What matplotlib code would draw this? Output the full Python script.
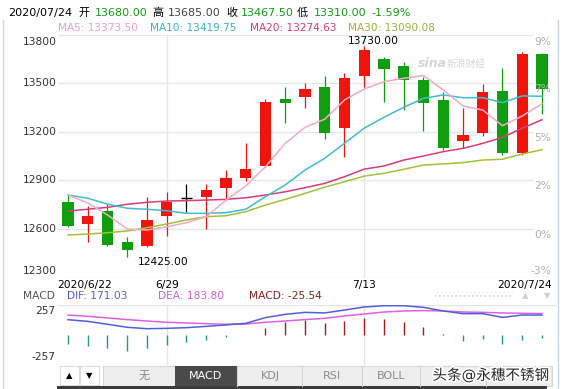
import matplotlib
matplotlib.use('Agg')
import matplotlib.pyplot as plt
from matplotlib.patches import Rectangle
from matplotlib.transforms import offset_copy
import matplotlib.patheffects as pe

plt.rcParams['font.family'] = ['DejaVu Sans', 'Noto Sans CJK SC']

# ---------------- data ----------------
opens = [12769, 12631, 12713, 12522, 12495, 12682, 12793, 12800, 12855, 12913, 12989, 13401, 13417,
         13475, 13226, 13547, 13650, 13607, 13520, 13397, 13145, 13195, 13452, 13071, 13680]
highs = [12814, 12742, 12754, 12553, 12800, 12827, 12878, 12876, 12964, 13129, 13400, 13479, 13500,
         13547, 13566, 13730, 13661, 13634, 13541, 13448, 13346, 13496, 13593, 13695, 13685]
lows = [12615, 12522, 12495, 12425, 12490, 12559, 12707, 12600, 12779, 12898, 12985, 13257, 13346,
        13154, 13047, 13475, 13386, 13335, 13207, 13088, 13098, 13175, 13060, 13057, 13310]
closes = [12620, 12680, 12501, 12470, 12656, 12769, 12793, 12841, 12913, 12970, 13387, 13380, 13465,
          13195, 13531, 13706, 13588, 13520, 13380, 13102, 13179, 13446, 13071, 13681, 13467.5]

ma5 = [12810, 12761, 12687, 12600, 12594, 12614, 12639, 12676, 12779, 12865, 12985, 13129, 13228,
       13278, 13397, 13465, 13510, 13531, 13547, 13459, 13360, 13335, 13238, 13298, 13373.5]
ma10 = [12810, 12790, 12754, 12728, 12722, 12713, 12697, 12697, 12701, 12722, 12800, 12872, 12964,
        13037, 13129, 13223, 13290, 13352, 13407, 13428, 13411, 13411, 13380, 13422, 13419.75]
ma20 = [12711, 12722, 12734, 12753, 12765, 12773, 12775, 12779, 12783, 12793, 12810, 12830, 12855,
        12882, 12923, 12970, 12989, 13026, 13051, 13078, 13098, 13129, 13166, 13222, 13274.63]
ma30 = [12563, 12569, 12577, 12588, 12608, 12631, 12656, 12676, 12682, 12707, 12748, 12783, 12820,
        12858, 12892, 12927, 12944, 12969, 12995, 13002, 13010, 13026, 13031, 13063, 13090.08]

dif = [131, 117, 92, 66, 54, 57, 63, 74, 86, 100, 149, 177, 194, 189, 214, 240, 251, 251, 237, 206,
       183, 183, 151, 171, 171.03]
dea = [171, 160, 146, 132, 120, 109, 103, 97, 92, 94, 109, 120, 132, 143, 163, 180, 197, 206, 209,
       206, 197, 194, 189, 186, 183.80]
macd_hist = [-80, -92, -114, -134, -114, -86, -63, -43, -15, 2, 63, 114, 131, 105, 120, 148, 137, 114,
             66, 8, -49, -37, -77, -43, -25.54]

date_ticks = [0, 5, 15, 24]
date_labels = ['2020/6/22', '6/29', '7/13', '2020/7/24']
price_ticks = [13800, 13500, 13200, 12900, 12600, 12300]
price_labels = ['13800', '13500', '13200', '12900', '12600', '12300']
pct_labels = ['9%', '7%', '5%', '2%', '0%', '-3%']
macd_range = 257

# ---------------- figure ----------------
W, H = 562, 389
fig = plt.figure(figsize=(W / 100, H / 100), dpi=100)
fig.patch.set_facecolor('white')

def fx(x):
    return x / W

def fy(y):
    return 1 - y / H

X0, X1 = 58, 557
xmin, xmax = -0.506, 24.76
ax = fig.add_axes([fx(X0), fy(277.6), fx(X1 - X0), (277.6 - 34.7) / H])
axm = fig.add_axes([fx(X0), fy(365), fx(X1 - X0), 60 / H])
for a in (ax, axm):
    a.set_xlim(xmin, xmax)
    for s in a.spines.values():
        s.set_visible(False)
    a.set_xticks([])
    a.set_yticks([])
    a.patch.set_alpha(0)
ax.set_ylim(12300, 13800)
axm.set_ylim(-macd_range, macd_range)

GRID = '#e6e6e6'
xgrid_end = (533 - 68) / 19.75
for p in price_ticks:
    ax.hlines(p, xmin, xgrid_end, color=GRID, lw=0.9, zorder=0)
for i in date_ticks[1:3]:
    ax.vlines(i, 12300, 13800, color=GRID, lw=0.9, zorder=0)
    axm.vlines(i, -macd_range, macd_range, color=GRID, lw=0.9, zorder=0)
axm.hlines(macd_range, xmin, xmax, color=GRID, lw=0.9, zorder=0)

RED = '#f0140c'
GREEN = '#0e9e0e'
bw = 0.56
for i in range(len(opens)):
    o, h, l, c = opens[i], highs[i], lows[i], closes[i]
    if c > o:
        col = RED
    elif c < o:
        col = GREEN
    else:
        col = 'black'
    ax.vlines(i, l, h, color=col, lw=0.9, zorder=2)
    if c != o:
        ax.bar(i, abs(c - o), bottom=min(o, c), width=bw, color=col, lw=0, zorder=3)
    else:
        ax.hlines(o, i - bw / 2, i + bw / 2, color=col, lw=1.0, zorder=3)

xs = list(range(len(opens)))
ax.plot(xs, ma30, color='#a3c23a', lw=1.1, zorder=4)
ax.plot(xs, ma20, color='#dc3c78', lw=1.1, zorder=4)
ax.plot(xs, ma10, color='#40bcd2', lw=1.1, zorder=4)
ax.plot(xs, ma5, color='#f4a9c8', lw=1.1, zorder=4)

# price labels (left) and percentage labels (right)
ytrans = ax.get_yaxis_transform()
for k, (p, lab, pl) in enumerate(zip(price_ticks, price_labels, pct_labels)):
    if k == 0:
        va = 'top'
        tl = offset_copy(ytrans, fig=fig, x=-1, y=-2, units='dots')
        tr = offset_copy(ytrans, fig=fig, y=-2, units='dots')
    elif k == len(price_ticks) - 1:
        va = 'bottom'
        tl = offset_copy(ytrans, fig=fig, x=-1, y=2, units='dots')
        tr = offset_copy(ytrans, fig=fig, y=2, units='dots')
    else:
        va = 'center'
        tl = offset_copy(ytrans, fig=fig, x=-1, units='dots')
        tr = offset_copy(ytrans, fig=fig, y=-6, units='dots')
    ax.text(0, p, lab, transform=tl, ha='right', va=va, fontsize=7.7, color='#333333')
    ax.text((551 - X0) / (X1 - X0), p, pl, transform=tr, ha='right', va=va,
            fontsize=7.7, color='#b0b0b0', zorder=6)

# high / low annotations
ihi = highs.index(max(highs))
ilo = lows.index(min(lows))
ax.text(ihi + 0.45, max(highs), '%.2f' % max(highs), ha='center', va='bottom',
        fontsize=7.7, color='black', zorder=6)
ax.text(ilo + 0.55, min(lows), '%.2f' % min(lows), ha='left', va='top',
        fontsize=7.7, color='black', zorder=6)

# MACD panel
for i in range(len(macd_hist)):
    v = macd_hist[i]
    col = '#a61c1c' if v > 0 else '#1f9c7a'
    axm.vlines(i, 0, v, color=col, lw=1.0, zorder=2)
axm.plot(xs, dea, color='#e060e0', lw=1.1, zorder=3)
axm.plot(xs, dif, color='#5060d8', lw=1.1, zorder=3)

# ---------------- overlay (pixel coordinates) ----------------
ov = fig.add_axes([0, 0, 1, 1])
ov.set_xlim(0, W)
ov.set_ylim(H, 0)
ov.set_axis_off()

# outer frame
FRAME = '#c8d8e2'
ov.plot([2.5, 2.5], [20, H], color=FRAME, lw=1.0)
ov.plot([557.5, 557.5], [20, H], color=FRAME, lw=1.0)

# header
hdr = [(8, '2020/07/24', 'black'), (78, '开', 'black'), (95, '13680.00', '#169a16'),
       (152, '高', 'black'), (168, '13685.00', '#444444'), (226, '收', 'black'),
       (241, '13467.50', '#169a16'), (297, '低', 'black'), (314, '13310.00', '#169a16'),
       (371, '-1.59%', '#169a16')]
for x, t, c in hdr:
    ov.text(x, 13, t, ha='left', va='center', fontsize=8, color=c)

ma_leg = [(58, 'MA5: %.2f' % ma5[-1], '#f2a0c4'), (150, 'MA10: %.2f' % ma10[-1], '#38b4cc'),
          (250, 'MA20: %.2f' % ma20[-1], '#d83c74'), (348, 'MA30: %.2f' % ma30[-1], '#9cb43a')]
for x, t, c in ma_leg:
    ov.text(x, 28, t, ha='left', va='center', fontsize=7.6, color=c)

# sina watermark
ov.text(418, 63, 'sina', ha='left', va='center', fontsize=9, color='#d6d6d6',
        fontweight='bold', style='italic')
ov.text(447, 64, '新浪财经', ha='left', va='center', fontsize=7, color='#d6d6d6', style='italic')

# date labels
ax_px = lambda i: X0 + (i - xmin) / (xmax - xmin) * (X1 - X0)
for k, (i, lab) in enumerate(zip(date_ticks, date_labels)):
    if k == 0:
        ov.text(57, 285, lab, ha='left', va='center', fontsize=7.7, color='black')
    elif k == len(date_ticks) - 1:
        ov.text(552, 285, lab, ha='right', va='center', fontsize=7.7, color='black')
    else:
        ov.text(ax_px(i), 285, lab, ha='center', va='center', fontsize=7.7, color='black')

# MACD legend
ov.text(55, 296, 'MACD', ha='right', va='center', fontsize=7.7, color='#555555')
ov.text(67, 296, 'DIF: %.2f' % dif[-1], ha='left', va='center', fontsize=7.7, color='#5060d8')
ov.text(158, 296, 'DEA: %.2f' % dea[-1], ha='left', va='center', fontsize=7.7, color='#d060d8')
ov.text(249, 296, 'MACD: %.2f' % macd_hist[-1], ha='left', va='center', fontsize=7.7, color='#8b2020')
ov.text(55, 311, str(macd_range), ha='right', va='center', fontsize=7.7, color='#333333')
ov.text(55, 357, '-' + str(macd_range), ha='right', va='center', fontsize=7.7, color='#333333')
dots = Rectangle((435, 292), 78, 7, facecolor='none', edgecolor='#dddddd', hatch='....', lw=0)
ov.add_patch(dots)
ov.text(525, 296, '▲', ha='center', va='center', fontsize=6, color='#d0d0d0')
ov.text(547, 296, '▼', ha='center', va='center', fontsize=6, color='#d0d0d0')

# bottom tab bar
ov.add_patch(Rectangle((103, 365.5), 449, 20.5, facecolor='#eeeeee', edgecolor='#d8d8d8', lw=0.8))
ov.add_patch(Rectangle((60, 366), 19, 19, facecolor='white', edgecolor='#dddddd', lw=0.8))
ov.add_patch(Rectangle((80, 366), 19, 19, facecolor='white', edgecolor='#dddddd', lw=0.8))
ov.text(69.5, 376, '▲', ha='center', va='center', fontsize=6, color='black')
ov.text(89.5, 376, '▼', ha='center', va='center', fontsize=6, color='black')
ov.add_patch(Rectangle((175, 365.5), 62, 20.5, facecolor='#4a4a4a', edgecolor='none'))
for sx in [237, 302, 362, 420, 486]:
    ov.plot([sx, sx], [366, 386], color='#d4d4d4', lw=0.8)
tabs = [(144, '无', '#8a8a8a'), (206, 'MACD', 'white'), (270, 'KDJ', '#8a8a8a'),
        (332, 'RSI', '#8a8a8a'), (391, 'BOLL', '#8a8a8a')]
for x, t, c in tabs:
    ov.text(x, 376, t, ha='center', va='center', fontsize=8, color=c)
ov.add_patch(Rectangle((57, 386), 490, 3, facecolor='#3c3c3c', edgecolor='none'))

# watermark
ov.text(491, 375, '头条@永穗不锈钢', ha='center', va='center', fontsize=10.5, color='#2a2a2a',
        path_effects=[pe.withStroke(linewidth=2.5, foreground='white')])

fig.savefig('out.png', dpi=100, facecolor='white')
